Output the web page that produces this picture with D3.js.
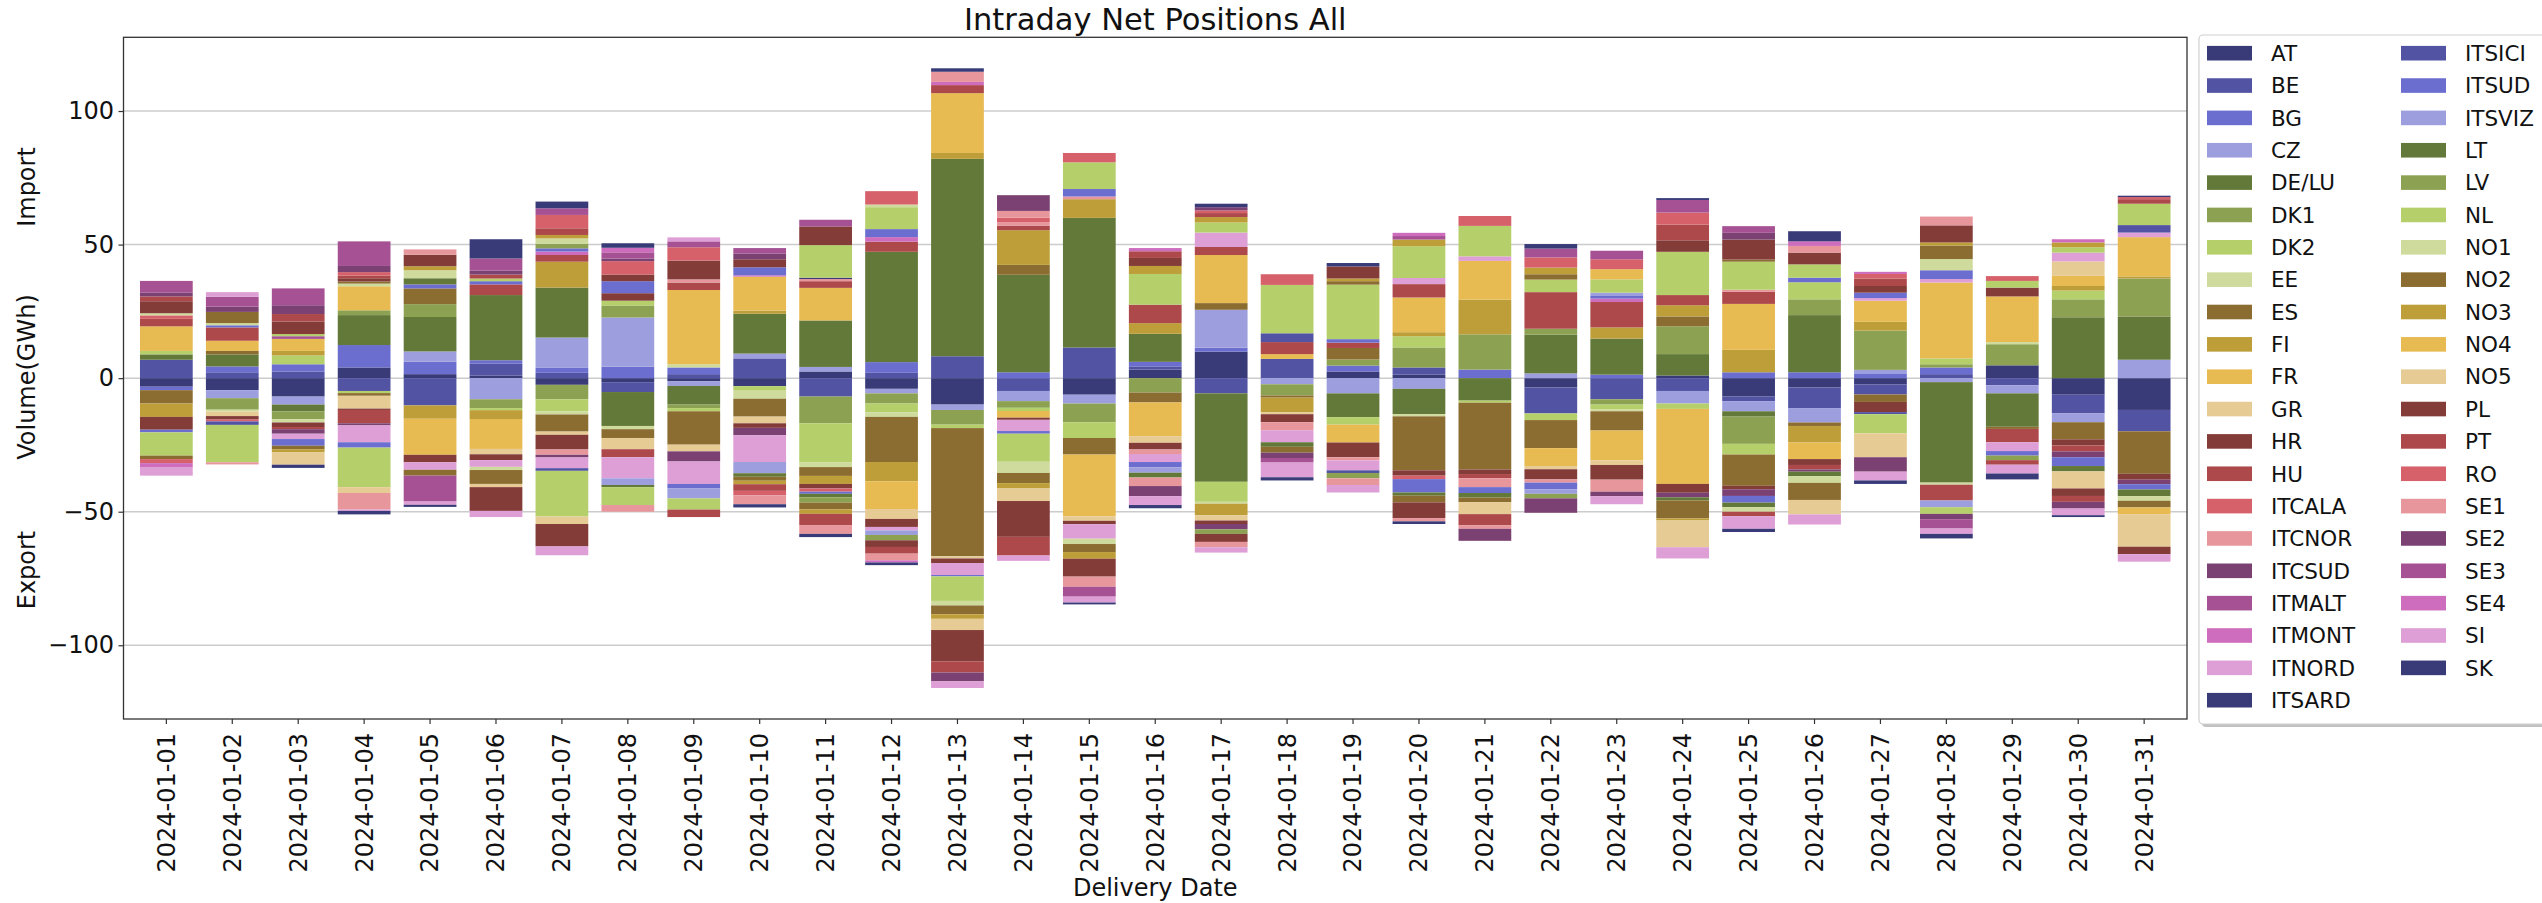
<!DOCTYPE html>
<html><head><meta charset="utf-8">
<script src="https://cdn.jsdelivr.net/npm/d3@7"></script>
<style>body{margin:0;background:#fff;} svg{display:block;font-family:"DejaVu Sans",sans-serif;}</style>
</head><body><svg id="chart" width="2542" height="903"></svg>
<script>
const dates = ["2024-01-01","2024-01-02","2024-01-03","2024-01-04","2024-01-05","2024-01-06","2024-01-07","2024-01-08","2024-01-09","2024-01-10","2024-01-11","2024-01-12","2024-01-13","2024-01-14","2024-01-15","2024-01-16","2024-01-17","2024-01-18","2024-01-19","2024-01-20","2024-01-21","2024-01-22","2024-01-23","2024-01-24","2024-01-25","2024-01-26","2024-01-27","2024-01-28","2024-01-29","2024-01-30","2024-01-31"];

const AT = [-3.2,-4.5,-6.9,4.0,1.5,1.0,-2.5,-1.5,-1.2,-3.0,2.5,-4.0,-9.9,0,-6.2,3.2,9.9,0,2.5,1.3,0,-3.5,0,1.0,-6.9,-3.5,-2.3,0,4.8,-6.2,-11.9];
const BE = [6.9,2.2,2.5,-4.8,-10.2,4.5,2.0,-3.7,1.5,7.4,-6.9,2.0,8.2,-4.8,11.5,1.2,-5.7,7.2,0,2.7,0,-9.7,-7.9,-4.8,-1.7,-7.7,-3.8,1.5,-2.7,-7.0,-8.0];
const BG = [-1.3,2.2,2.7,8.4,4.7,1.2,2.0,4.3,2.5,0,0,4.0,0,2.2,0,1.7,1.5,0,2.2,0,3.2,0,1.3,0,2.2,2.2,1.8,2.5,0,0,0];
const CZ = [0,-3.0,-3.0,0,3.8,-7.9,11.2,18.4,-1.7,1.8,1.7,-1.7,-2.0,-3.8,-3.3,0,14.2,-2.3,-5.7,-4.0,0,1.8,0,-4.7,-3.8,-5.4,1.3,-1.5,-3.0,-3.3,6.9];
const DE_LU = [2.0,4.5,-2.5,11.2,12.9,24.4,18.7,-12.7,-7.0,14.9,17.4,41.3,73.9,36.5,48.5,10.5,-33.1,0,-8.9,-9.5,-8.4,14.5,13.5,8.0,-2.0,21.4,0,-37.6,-12.5,22.8,16.2];
const DK1 = [0,-4.3,-3.0,1.8,4.8,-3.3,-5.4,4.5,-1.3,0,-10.0,-3.8,-5.5,-2.5,-7.0,-5.4,0,-4.2,2.3,7.5,13.2,2.2,-2.0,10.4,-10.2,5.9,14.7,1.2,7.9,6.7,14.2];
const DK2 = [1.3,0,3.3,-0.8,0,-0.8,-4.5,1.8,-1.2,-1.7,-14.7,-3.3,-1.3,-1.2,-5.9,0,-7.5,0,-2.8,4.2,-0.8,-2.5,-1.7,-2.0,-4.0,6.4,0,2.2,0,3.3,0];
const EE = [0,-0.7,-1.2,0,0,0,-1.2,-1.2,1.2,-3.0,-1.7,-1.7,0,0,0,0,-0.7,0,0,-0.8,0,0,-0.8,0,0,0,0,-0.8,0.8,0,0];
const ES = [-5.0,1.3,0,-1.0,5.9,0,-6.4,-3.3,-12.5,-6.7,-3.3,-16.9,-48.0,3.7,-6.2,-3.7,2.5,-0.8,4.3,-20.2,-25.0,-10.5,-7.2,3.7,-11.7,-1.3,-2.8,0,-0.8,-6.4,-15.9];
const FI = [-5.0,0,1.7,0,-5.0,-3.3,9.7,0,0,1.2,-3.0,-7.2,2.2,13.0,7.0,4.0,-4.3,-5.5,0,1.5,13.0,0,4.2,4.2,8.4,-6.2,3.3,0,0,1.7,0.8];
const FR = [9.2,3.8,4.5,9.0,-13.5,-11.2,0,0,27.8,12.7,12.2,-10.4,22.4,-2.5,-23.1,-12.6,18.0,1.8,-6.7,13.0,14.5,-6.7,-11.2,-28.1,17.2,-6.2,7.9,28.4,17.1,3.8,14.7];
const GR = [0,-1.7,0,-4.8,0,-2.0,-1.2,-4.2,-2.5,-2.5,0,-3.7,-0.8,0,-1.7,-2.5,-2.0,-0.7,0,0,0,-1.2,-1.7,0,0,0,0,0,0,5.4,0];
const HR = [-4.8,-1.3,-1.7,-0.5,-2.8,-2.2,-5.5,2.8,0,-1.7,-1.7,-3.0,-1.7,-0.8,-1.3,-2.5,-1.3,-3.0,-5.5,-2.0,-1.7,-3.8,-5.5,-3.3,-1.3,-2.2,-3.8,0,3.3,-2.3,-2.2];
const HU = [2.8,5.0,-0.8,-5.0,0,4.0,2.5,-3.0,2.8,0,2.5,3.8,3.0,1.7,0,6.9,3.0,4.5,2.0,5.0,-1.6,13.7,9.5,3.8,4.5,-1.7,0,-5.9,-5.0,-2.2,0];
const ITCALA = [1.3,-0.7,0,0,0,0,0,0,0,0,-1.2,0,0,0,0,0,0,0,0,-1.3,0,0,0,0,0,0,0,0,0,0,0];
const ITCNOR = [0,0,0,0,0,0,-2.0,0,1.2,0,0.8,0,0,1.3,1.0,-1.7,0,-3.0,-1.2,0,-3.3,-1.2,-4.5,0,0.8,0,0,0,0,0,0];
const ITCSUD = [0,0,-1.7,-0.8,0,0,-1.0,0,-3.8,-2.8,0,0,0,0,0,0,-2.0,0,0,0,0,0,-1.7,-1.7,-2.5,-0.8,0,0,0,-2.2,-1.7];
const ITMALT = [0,0,1.0,0,0,0,0,0,0,0,0,0,0,0,0,0,0,0,0,0,0,0,0,0,0,0,0,0,0,0,0];
const ITMONT = [0,0,0,0,0,0,1.3,0,0,0.5,0,1.7,1.2,0,0,0,0,0,0,0,0,0,1.3,0,0,0,0,0,0,0,0];
const ITNORD = [0,0,-2.0,-6.3,-2.8,-2.5,-4.0,-7.9,-8.4,-10.0,0,-1.3,-4.5,-4.2,-5.4,-3.0,5.4,-4.5,-3.7,2.3,1.7,0,-3.0,0,0,0,1.0,1.3,-3.3,3.3,1.7];
const ITSARD = [0,0,0,0,0,0,0,0,0,0,0.5,0,0,0,0,0,0,0,0,0,0,0,0,0,0,0,0,0,0,0,0];
const ITSICI = [0,-1.3,0,0,0,0,-1.0,0,0,0,0,0,0,0,0,0,0,3.3,-1.0,0,0,0,0,0,0,0,-0.8,0,0,0,2.8];
const ITSUD = [-1.0,0.8,-2.5,-2.0,1.5,1.2,1.2,4.5,-1.7,3.0,-0.8,3.0,-0.5,-1.0,2.8,-2.0,0,0,1.3,-5.0,-2.2,-2.5,1.2,0,-2.5,1.7,2.0,3.3,-1.7,-3.3,-2.0];
const ITSVIZ = [0,0,0,0,0,0,0,-2.5,-3.7,-4.2,0,-1.7,0,0,0,-2.0,0,0,0,0,0,-1.7,1.0,0,0,0,0,-2.5,0,0,0];
const LT = [0,0,0,0,2.3,0,0,-0.8,0,-1.3,-1.3,0,0,0,0,-1.8,0,-1.7,0,-1.2,-1.7,0,0,-1.2,-1.7,-1.7,0,0,0,-2.0,-2.5];
const LV = [0,0,0,0,0,0,1.7,0,0,0,-2.0,-2.0,0,0,0,0,-1.7,0,-2.0,0,0,-1.7,0,0,0,0,0,0,-1.7,0,0];
const NL = [-8.7,-14.0,0.8,-14.8,0,1.0,-17.1,-6.7,-4.2,0,12.2,8.2,-9.2,-10.5,10.0,11.5,3.8,18.1,20.4,11.9,11.4,4.7,5.0,16.2,10.5,5.0,-7.2,-2.5,2.5,2.0,8.0];
const NO1 = [0.8,0.8,0,1.0,3.0,-1.2,2.0,0,0,0,0,1.0,-1.7,-4.2,-2.0,0,0,0,0,0,0,0,0,0,-1.7,-2.5,0,4.2,0,0,-1.7];
const NO2 = [-1.3,4.2,-1.3,0.8,-2.2,-5.2,0,0,0,-1.5,-2.5,0,-3.3,-3.8,-3.0,0,0,-2.2,1.3,-2.5,-1.7,2.0,0,-6.7,0.8,-6.4,0,5.0,0,0,-2.5];
const NO3 = [0,0,-1.2,0,1.5,0,1.3,0,0,-1.3,-1.7,0,-1.7,-2.0,-2.5,3.0,2.0,0,1.0,2.5,0,2.5,0,-0.8,0,0,0,1.2,0,1.8,0];
const NO4 = [0,0,0,0,0,0,0,0,0,0,0,0,0,0,0,0,0,0,0,0,0,0,3.8,0,0,0,0,0,0,0,-2.5];
const NO5 = [0,0,-4.6,-2.2,0,-1.2,-2.8,0,0,0,0,0,-4.2,-4.7,0,0,0,0,0,0,-4.5,0,0,-10.0,0,-5.4,-8.9,0,0,-6.4,-12.2];
const PL = [4.5,0,4.7,1.2,4.3,-8.9,-8.4,2.5,7.0,3.0,7.0,-2.5,-11.7,-13.4,-6.7,3.0,-3.0,0,4.5,-5.9,0,0,0,4.3,7.5,4.4,2.5,6.4,0,-2.8,-2.8];
const PT = [1.8,0,2.8,1.0,0,1.5,2.5,0,-2.8,-2.5,-4.2,-2.5,-4.2,-7.0,0,2.5,1.5,0,0,0,-4.2,0,0,5.9,-1.7,0,2.8,0,-1.7,-2.2,1.7];
const RO = [-1.5,0,0,1.3,0,0,5.0,5.0,5.0,-1.7,0,5.0,0,1.7,3.5,0,1.0,4.0,0,0,3.7,3.8,3.7,4.5,0,0,1.7,0,1.8,0,0.8];
const SE1 = [0,-0.8,0,-6.2,2.0,0,0,-2.5,0,-3.3,-3.3,-2.5,3.8,2.5,-3.8,-3.2,-2.0,0,-2.5,-1.2,-1.3,0,0,0,0,2.5,0,3.3,0,0,0];
const SE2 = [1.5,2.0,3.3,2.3,0,1.5,0,1.0,0,2.2,0,0,-3.3,5.9,0,-3.8,1.2,-2.0,0,0,-4.5,-5.4,0,0,2.5,0,-5.4,-2.0,0,-2.5,0];
const SE3 = [4.3,3.7,6.3,9.2,-9.7,4.5,2.5,2.3,2.2,2.0,2.5,0,0,0,-3.7,0,0,-1.7,0,1.3,0,3.3,3.2,4.7,2.5,0,0,-3.5,0,0,0];
const SE4 = [-1.7,0,0,0,0,0,0,1.7,0,0,0,-0.8,0,0,0,1.2,0,0,0,1.2,0,0,0,0,0,1.7,0.8,0,0,1.2,0];
const SI = [-3.0,1.7,0,-0.5,-1.2,-2.3,-3.3,0,1.5,0,0,0,-2.5,-2.0,-2.2,-3.3,-2.0,-5.5,-2.8,0,0,0,0,-4.2,-4.7,-3.8,-3.3,-2.0,-3.3,-2.5,-2.8];
const SK = [0,0,-1.2,-1.3,-0.8,7.2,2.5,1.7,0,-1.2,-1.2,-1.0,1.3,0,-0.7,-1.2,1.3,-1.2,1.3,-1.0,0,1.7,0,0.7,-1.2,3.8,-1.3,-1.7,-2.2,-0.7,0.5];

const seriesNames = ["AT","BE","BG","CZ","DE/LU","DK1","DK2","EE","ES","FI","FR","GR","HR","HU","ITCALA","ITCNOR","ITCSUD","ITMALT","ITMONT","ITNORD","ITSARD","ITSICI","ITSUD","ITSVIZ","LT","LV","NL","NO1","NO2","NO3","NO4","NO5","PL","PT","RO","SE1","SE2","SE3","SE4","SI","SK"];
const seriesValues = [AT,BE,BG,CZ,DE_LU,DK1,DK2,EE,ES,FI,FR,GR,HR,HU,ITCALA,ITCNOR,ITCSUD,ITMALT,ITMONT,ITNORD,ITSARD,ITSICI,ITSUD,ITSVIZ,LT,LV,NL,NO1,NO2,NO3,NO4,NO5,PL,PT,RO,SE1,SE2,SE3,SE4,SI,SK];
const palette = ["#393b79","#5254a3","#6b6ecf","#9c9ede","#637939","#8ca252","#b5cf6b","#cedb9c","#8c6d31","#bd9e39","#e7ba52","#e7cb94","#843c39","#ad494a","#d6616b","#e7969c","#7b4173","#a55194","#ce6dbd","#de9ed6"];
const yTicks = [-100,-50,0,50,100];
const titleText = "Intraday Net Positions All";
const xLabel = "Delivery Date";

const svg = d3.select("#chart");
const M = {left:123.5, right:2187, top:37.3, bottom:719};

const rows = dates.map((d,i)=>{const o={date:d}; seriesNames.forEach((s,k)=>o[s]=seriesValues[k][i]); return o;});
const layers = d3.stack().keys(seriesNames).offset(d3.stackOffsetDiverging)(rows);
const maxAbs = d3.max(layers, L => d3.max(L, d => Math.max(Math.abs(d[0]), Math.abs(d[1]))));
const lim = maxAbs*1.1;

const x = d3.scaleBand().domain(dates).range([M.left, M.right]).paddingInner(0.2).paddingOuter(0.25);
const y = d3.scaleLinear().domain([-lim, lim]).range([M.bottom, M.top]);
const color = d3.scaleOrdinal().domain(seriesNames).range(seriesNames.map((s,i)=>palette[i%20]));

// grid
svg.append("g").selectAll("line").data(yTicks).join("line")
  .attr("x1", M.left).attr("x2", M.right)
  .attr("y1", d=>y(d)).attr("y2", d=>y(d))
  .attr("stroke", "#cccccc").attr("stroke-width", 1.5);

// bars
svg.append("g").selectAll("g").data(layers).join("g")
  .attr("fill", d=>color(d.key))
  .selectAll("rect").data(d=>d).join("rect")
  .attr("x", d=>x(d.data.date))
  .attr("width", x.bandwidth())
  .attr("y", d=>y(Math.max(d[0],d[1])))
  .attr("height", d=>Math.abs(y(d[0])-y(d[1])));

// frame
svg.append("rect").attr("x", M.left).attr("y", M.top)
  .attr("width", M.right-M.left).attr("height", M.bottom-M.top)
  .attr("fill","none").attr("stroke","#333").attr("stroke-width",1.3);

// y axis
const yAxis = d3.axisLeft(y).tickValues(yTicks).tickSize(5).tickPadding(4.5).tickFormat(d3.format("d"));
const gy = svg.append("g").attr("transform",`translate(${M.left},0)`).call(yAxis);
gy.select(".domain").remove();
gy.selectAll(".tick line").attr("stroke","#333").attr("stroke-width",1.2);
gy.selectAll(".tick text").attr("font-size","24px").attr("fill","#111").attr("font-family","DejaVu Sans")
  .text(d=> d<0 ? "\u2212"+Math.abs(d) : d);

// x axis
const xAxis = d3.axisBottom(x).tickSize(5).tickPadding(0);
const gx = svg.append("g").attr("transform",`translate(0,${M.bottom})`).call(xAxis);
gx.select(".domain").remove();
gx.selectAll(".tick line").attr("stroke","#333").attr("stroke-width",1.2);
gx.selectAll(".tick text").attr("font-size","24px").attr("fill","#111").attr("font-family","DejaVu Sans")
  .attr("transform","rotate(-90)").attr("text-anchor","end")
  .attr("x",-14).attr("y",0).attr("dy","0.35em");

// titles
svg.append("text").attr("x",(M.left+M.right)/2).attr("y",30).attr("text-anchor","middle")
  .attr("font-size","30.5px").attr("fill","#111").text(titleText);
svg.append("text").attr("x",(M.left+M.right)/2).attr("y",896).attr("text-anchor","middle")
  .attr("font-size","24px").attr("fill","#111").text(xLabel);
const ylab = [["Import",187],["Volume(GWh)",377],["Export",570]];
ylab.forEach(([t,cy])=>{
  svg.append("text").attr("transform",`translate(27,${cy}) rotate(-90)`)
    .attr("text-anchor","middle").attr("dy","0.35em").attr("font-size","24px").attr("fill","#111").text(t);
});

// legend
const LG = {x:2199, y:35, w:360, h:689};
svg.append("rect").attr("x",LG.x+3).attr("y",LG.y+3).attr("width",LG.w).attr("height",LG.h)
  .attr("rx",4).attr("fill","#9a9a9a").attr("opacity",0.6);
svg.append("rect").attr("x",LG.x).attr("y",LG.y).attr("width",LG.w).attr("height",LG.h)
  .attr("rx",4).attr("fill","#fff").attr("stroke","#d0d0d0").attr("stroke-width",1.2);
const leg = svg.append("g").selectAll("g").data(seriesNames).join("g")
  .attr("transform",(d,i)=>{const col = i<21?0:1; const row = i<21?i:i-21; return `translate(${LG.x+8+col*194},${53.2+row*32.35})`;});
leg.append("rect").attr("x",0).attr("y",-7.3).attr("width",45).attr("height",14.6).attr("fill",d=>color(d));
leg.append("text").attr("x",64).attr("y",0).attr("dy","0.36em").attr("font-size","21.5px").attr("fill","#111").text(d=>d);
</script></body></html>
